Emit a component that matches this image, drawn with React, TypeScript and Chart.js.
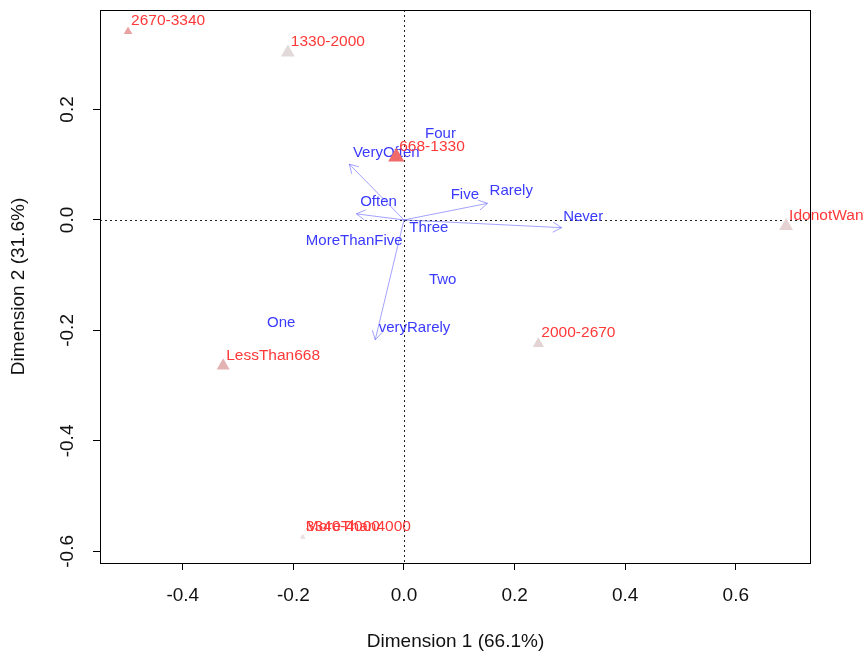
import React, { useEffect, useRef } from 'react';
import { Chart, registerables } from 'chart.js';

Chart.register(...registerables);

// Row points (triangles)
const rowLabels = ['2670-3340', '1330-2000', '668-1330', 'IdonotWantToSay', '2000-2670', 'LessThan668', '3340-4000', 'MoreThan4000'];
const rowX = [-0.499, -0.210, -0.014, 0.691, 0.243, -0.327, -0.183, -0.183];
const rowY = [0.341, 0.303, 0.114, -0.011, -0.224, -0.264, -0.574, -0.574];
const rowSize = [5, 8, 9.3, 8, 6.5, 7.5, 3, 3];
const rowColor = ['#e9a3a3', '#e2dada', '#f06a6a', '#e6d2d2', '#e3d3d3', '#e3b3b3', '#ecdede', '#ecdede'];

// Column labels (blue text)
const colLabels = ['Four', 'VeryOften', 'Often', 'Five', 'Rarely', 'Never', 'Three', 'MoreThanFive', 'Two', 'One', 'veryRarely'];
const colX = [0.066, -0.032, -0.046, 0.110, 0.194, 0.324, 0.045, -0.090, 0.070, -0.222, 0.019];
const colY = [0.156, 0.121, 0.032, 0.045, 0.052, 0.005, -0.014, -0.038, -0.108, -0.186, -0.196];

// Arrows (blue)
const arrowLabels = ['VeryOften', 'Often', 'Rarely', 'Never', 'veryRarely'];
const arrowX = [-0.099, -0.086, 0.151, 0.285, -0.052];
const arrowY = [0.101, 0.011, 0.030, -0.014, -0.217];

// Axes
const xTicks = [-0.4, -0.2, 0.0, 0.2, 0.4, 0.6];
const xTickLabels = ['-0.4', '-0.2', '0.0', '0.2', '0.4', '0.6'];
const yTicks = [-0.6, -0.4, -0.2, 0.0, 0.2];
const yTickLabels = ['-0.6', '-0.4', '-0.2', '0.0', '0.2'];
const X_MIN = -0.5497;
const X_MAX = 0.736;
const Y_MIN = -0.621;
const Y_MAX = 0.380;
const xTitle = 'Dimension 1 (66.1%)';
const yTitle = 'Dimension 2 (31.6%)';

const FONT = '"Liberation Sans", Arial, sans-serif';
const BLUE_TEXT = '#3a3aff';
const RED_TEXT = '#ff3838';
const ARROW_COLOR = 'rgba(100,100,255,0.6)';

export default function App() {
  const ref = useRef<HTMLCanvasElement>(null);

  useEffect(() => {
    const canvas = ref.current;
    if (!canvas) return;

    const arrowDatasets = arrowX.map((ax, i) => ({
      type: 'line' as const,
      label: arrowLabels[i],
      data: [{ x: 0, y: 0 }, { x: ax, y: arrowY[i] }],
      borderColor: ARROW_COLOR,
      borderWidth: 1,
      pointRadius: 0,
      showLine: true,
      fill: false,
      tension: 0,
      order: 3,
    }));

    const colDataset = {
      type: 'scatter' as const,
      label: 'columns',
      data: colX.map((x, i) => ({ x, y: colY[i] })),
      pointRadius: 0,
      order: 2,
    };

    const rowDataset = {
      type: 'scatter' as const,
      label: 'rows',
      data: rowX.map((x, i) => ({ x, y: rowY[i] })),
      pointStyle: 'triangle',
      pointRadius: rowSize,
      pointBackgroundColor: rowColor,
      pointBorderWidth: 0,
      order: 0,
    };

    const datasets: any[] = [...arrowDatasets, colDataset, rowDataset];
    const rowIndex = datasets.length - 1;
    const colIndex = datasets.length - 2;

    const decor = {
      id: 'caDecor',
      beforeDatasetsDraw(chart: any) {
        const { ctx, chartArea: a, scales } = chart;
        const x0 = Math.round(scales.x.getPixelForValue(0)) + 0.5;
        const y0 = Math.round(scales.y.getPixelForValue(0)) + 0.5;
        ctx.save();
        ctx.strokeStyle = '#222';
        ctx.lineWidth = 1;
        ctx.setLineDash([2, 3]);
        ctx.beginPath();
        ctx.moveTo(x0, a.top);
        ctx.lineTo(x0, a.bottom);
        ctx.moveTo(a.left, y0);
        ctx.lineTo(a.right, y0);
        ctx.stroke();
        ctx.restore();
      },
      beforeDatasetDraw(chart: any, args: any) {
        if (args.index !== rowIndex) return;
        const { ctx, scales } = chart;
        const xs = scales.x;
        const ys = scales.y;
        // arrow heads
        ctx.save();
        ctx.strokeStyle = ARROW_COLOR;
        ctx.lineWidth = 1;
        const ox = xs.getPixelForValue(0);
        const oy = ys.getPixelForValue(0);
        arrowX.forEach((ax, i) => {
          const tx = xs.getPixelForValue(ax);
          const ty = ys.getPixelForValue(arrowY[i]);
          const th = Math.atan2(ty - oy, tx - ox);
          const L = 10;
          const sp = Math.PI / 6;
          ctx.beginPath();
          ctx.moveTo(tx + L * Math.cos(th + Math.PI - sp), ty + L * Math.sin(th + Math.PI - sp));
          ctx.lineTo(tx, ty);
          ctx.lineTo(tx + L * Math.cos(th + Math.PI + sp), ty + L * Math.sin(th + Math.PI + sp));
          ctx.stroke();
        });
        ctx.restore();
        // blue labels
        const meta = chart.getDatasetMeta(colIndex);
        ctx.save();
        ctx.font = `15px ${FONT}`;
        ctx.fillStyle = BLUE_TEXT;
        ctx.textAlign = 'center';
        ctx.textBaseline = 'middle';
        meta.data.forEach((pt: any, i: number) => {
          ctx.fillText(colLabels[i], pt.x, pt.y);
        });
        ctx.restore();
      },
      afterDatasetsDraw(chart: any) {
        const { ctx, chartArea: a } = chart;
        const meta = chart.getDatasetMeta(rowIndex);
        ctx.save();
        ctx.font = `15.5px ${FONT}`;
        ctx.fillStyle = RED_TEXT;
        ctx.textAlign = 'left';
        ctx.textBaseline = 'middle';
        meta.data.forEach((pt: any, i: number) => {
          ctx.fillText(rowLabels[i], pt.x + 3, pt.y - 10.5);
        });
        ctx.restore();
        // frame
        ctx.save();
        ctx.strokeStyle = '#000';
        ctx.lineWidth = 1;
        ctx.setLineDash([]);
        ctx.strokeRect(a.left + 0.5, a.top + 0.5, a.right - a.left - 1, a.bottom - a.top);
        ctx.restore();
      },
    };

    const chart = new Chart(canvas, {
      type: 'scatter',
      data: { datasets },
      options: {
        responsive: false,
        devicePixelRatio: 1,
        animation: false,
        layout: { padding: { top: 10, right: 53, left: 0, bottom: 0 } },
        plugins: {
          legend: { display: false },
          tooltip: { enabled: false },
        },
        scales: {
          x: {
            type: 'linear',
            position: 'bottom',
            min: X_MIN,
            max: X_MAX,
            afterBuildTicks: (s: any) => {
              s.ticks = xTicks.map((v) => ({ value: v }));
            },
            afterFit: (s: any) => {
              s.height = 91;
              s.paddingLeft = 0;
              s.paddingRight = 0;
            },
            grid: { drawOnChartArea: false, drawTicks: true, tickLength: 7, color: '#000', lineWidth: 1 },
            border: { display: false },
            ticks: {
              autoSkip: false,
              maxRotation: 0,
              minRotation: 0,
              padding: 14,
              color: '#111',
              font: { family: FONT, size: 19 },
              callback: (_v: any, i: number) => xTickLabels[i],
            },
            title: {
              display: true,
              text: xTitle,
              color: '#111',
              font: { family: FONT, size: 19 },
              padding: { top: 0, bottom: 1 },
            },
          },
          y: {
            type: 'linear',
            position: 'left',
            min: Y_MIN,
            max: Y_MAX,
            afterBuildTicks: (s: any) => {
              s.ticks = yTicks.map((v) => ({ value: v }));
            },
            afterFit: (s: any) => {
              s.width = 100;
              s.paddingTop = 0;
              s.paddingBottom = 0;
            },
            grid: { drawOnChartArea: false, drawTicks: true, tickLength: 7, color: '#000', lineWidth: 1 },
            border: { display: false },
            ticks: {
              autoSkip: false,
              minRotation: 90,
              maxRotation: 90,
              crossAlign: 'center',
              padding: 9,
              color: '#111',
              font: { family: FONT, size: 19 },
              callback: (_v: any, i: number) => yTickLabels[i],
            },
            title: {
              display: true,
              text: yTitle,
              color: '#111',
              font: { family: FONT, size: 19 },
              padding: { top: 7, bottom: 0 },
            },
          },
        },
      } as any,
      plugins: [decor],
    });

    return () => chart.destroy();
  }, []);

  return (
    <div style={{ position: 'absolute', left: 0, top: 0, width: 864, height: 654, background: '#fff' }}>
      <canvas ref={ref} width={864} height={654} style={{ display: 'block' }} />
    </div>
  );
}
